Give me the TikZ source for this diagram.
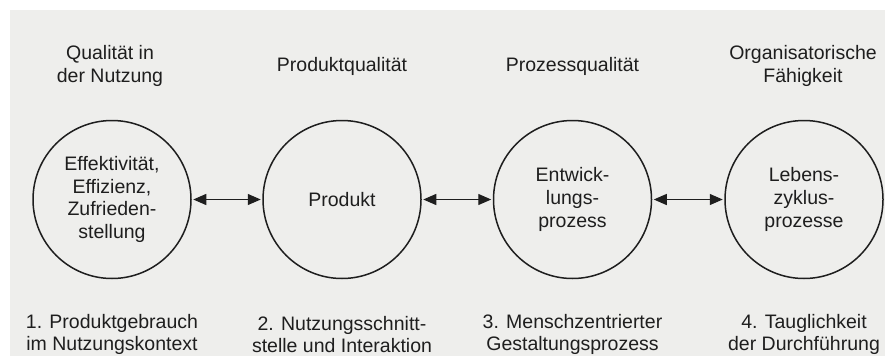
\documentclass[tikz,border=0pt]{standalone}
\usepackage{fontspec}
\setmainfont{Liberation Sans}
\usetikzlibrary{arrows.meta}
\definecolor{bg}{HTML}{EEEEEC}
\definecolor{ink}{HTML}{1E1E1E}
\begin{document}
\begin{tikzpicture}[x=1pt,y=-1pt,
  circ/.style={circle,draw=ink,line width=1.5pt,minimum size=158pt,inner sep=0pt,
    align=center,text=ink,font=\fontsize{19.5}{22.7}\selectfont},
  lbl/.style={align=center,text=ink,inner sep=0pt,font=\fontsize{19.5}{22.5}\selectfont},
  link/.style={{Triangle[length=13pt,width=11pt]}-{Triangle[length=13pt,width=11pt]},
    draw=ink,line width=1.2pt,shorten <=1.5pt,shorten >=1.5pt}]
\useasboundingbox (0,0) rectangle (885,356);
\fill[white] (0,0) rectangle (885,356);
\fill[bg] (10,10) rectangle (885,356);

\node[circ] (c1) at (112,199.5) {Effektivität,\\Effizienz,\\Zufrieden-\\stellung};
\node[circ] (c2) at (342,199.5) {Produkt};
\node[circ] (c3) at (572.5,199.5) {Entwick-\\lungs-\\prozess};
\node[circ] (c4) at (804,199.5) {Lebens-\\zyklus-\\prozesse};

\draw[link] (c1.east) -- (c2.west);
\draw[link] (c2.east) -- (c3.west);
\draw[link] (c3.east) -- (c4.west);

\node[lbl] (t1) at (110,66) {Qualität in\\der Nutzung};
\node[lbl] (t2) at (342,66) {Produktqualität};
\node[lbl] (t3) at (572.5,66) {Prozessqualität};
\node[lbl] (t4) at (803,66) {Organisatorische\\Fähigkeit};

\node[lbl] (b1) at (112,334.5) {1. Produktgebrauch\\im Nutzungskontext};
\node[lbl] (b2) at (342,334.5) {2. Nutzungsschnitt-\\stelle und Interaktion};
\node[lbl] (b3) at (572.5,334.5) {3. Menschzentrierter\\Gestaltungsprozess};
\node[lbl] (b4) at (804,334.5) {4. Tauglichkeit\\der Durchführung};
\end{tikzpicture}
\end{document}
